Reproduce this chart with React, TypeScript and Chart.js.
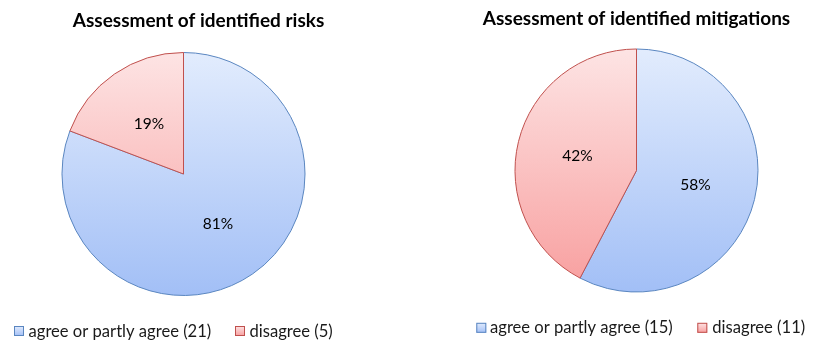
import React, { useEffect, useRef } from 'react';
import { Chart, registerables } from 'chart.js';

Chart.register(...registerables);

// ---- data ----
const categories = ['agree or partly agree', 'disagree'];
const risksCounts = [21, 5];
const mitigationsCounts = [15, 11];
const chartTitles = ['Assessment of identified risks', 'Assessment of identified mitigations'];

// ---- styles ----
const FONT = 'Lato, "Open Sans", sans-serif';
const FILLS = [
  { top: '#e2ecfd', bottom: '#a2bff6', border: '#5a86c0' },
  { top: '#fde4e4', bottom: '#f89e9e', border: '#c0504d' },
];
const W = 413;
const H = 354;

type PanelLayout = {
  cx: number; cy: number; r: number;
  titleX: number; titleY: number;
  legendY: number; boxX: number[]; textX: number[];
};

const leftLayout: PanelLayout = {
  cx: 183.5, cy: 174, r: 121.5,
  titleX: 198.5, titleY: 27,
  legendY: 336.5, boxX: [14, 235], textX: [28.5, 249.5],
};
const rightLayout: PanelLayout = {
  cx: 223.5, cy: 170.5, r: 121.5,
  titleX: 223.5, titleY: 24.5,
  legendY: 333.3, boxX: [63.3, 284.3], textX: [77, 299.3],
};

function Panel({ title, counts, layout, left }: { title: string; counts: number[]; layout: PanelLayout; left: number }) {
  const ref = useRef<HTMLCanvasElement | null>(null);
  useEffect(() => {
    if (!ref.current) return;
    const L = layout;
    const total = counts.reduce((a, b) => a + b, 0);
    const grad = (chart: Chart, i: number) => {
      const g = chart.ctx.createLinearGradient(0, L.cy - L.r, 0, L.cy + L.r);
      g.addColorStop(0, FILLS[i].top);
      g.addColorStop(1, FILLS[i].bottom);
      return g;
    };
    const overlay = {
      id: 'overlay',
      afterDraw(chart: Chart) {
        const ctx = chart.ctx;
        ctx.save();
        // title
        ctx.fillStyle = '#000';
        ctx.font = `bold 19px ${FONT}`;
        ctx.textAlign = 'center';
        ctx.textBaseline = 'alphabetic';
        ctx.fillText(title, L.titleX, L.titleY);
        // slice labels
        const meta = chart.getDatasetMeta(0);
        ctx.font = `15.5px ${FONT}`;
        ctx.textBaseline = 'middle';
        meta.data.forEach((el: any, i: number) => {
          const p = el.tooltipPosition(true);
          const pct = Math.round((counts[i] / total) * 100);
          ctx.fillText(`${pct}%`, p.x, p.y);
        });
        // legend
        ctx.textAlign = 'left';
        ctx.textBaseline = 'alphabetic';
        ctx.font = `16.6px ${FONT}`;
        categories.forEach((c, i) => {
          const bx = L.boxX[i];
          const by = L.legendY - 10.5;
          const g = ctx.createLinearGradient(0, by, 0, by + 10);
          g.addColorStop(0, FILLS[i].top);
          g.addColorStop(1, FILLS[i].bottom);
          ctx.fillStyle = g;
          ctx.fillRect(bx, by, 10, 10);
          ctx.strokeStyle = FILLS[i].border;
          ctx.lineWidth = 1;
          ctx.strokeRect(bx + 0.5, by + 0.5, 9, 9);
          ctx.fillStyle = '#1a1a1a';
          ctx.fillText(`${c} (${counts[i]})`, L.textX[i], L.legendY);
        });
        ctx.restore();
      },
    };
    const chart = new Chart(ref.current, {
      type: 'pie',
      data: {
        labels: categories,
        datasets: [{
          data: counts,
          backgroundColor: (c: any) => grad(c.chart, c.dataIndex),
          borderColor: FILLS.map((f) => f.border),
          borderWidth: 1,
        }],
      },
      options: {
        animation: false,
        responsive: true,
        maintainAspectRatio: false,
        radius: L.r,
        layout: {
          padding: {
            left: L.cx - L.r,
            right: W - (L.cx + L.r),
            top: L.cy - L.r,
            bottom: H - (L.cy + L.r),
          },
        },
        plugins: {
          legend: { display: false },
          title: { display: false },
          tooltip: { enabled: false },
        },
      } as any,
      plugins: [overlay],
    });
    return () => chart.destroy();
  }, [title, counts, layout]);
  return (
    <div style={{ position: 'absolute', left, top: 0, width: W, height: H }}>
      <canvas ref={ref} />
    </div>
  );
}

export default function App() {
  return (
    <div style={{ position: 'fixed', left: 0, top: 0, width: 826, height: 354, background: '#fff', overflow: 'hidden' }}>
      <Panel title={chartTitles[0]} counts={risksCounts} layout={leftLayout} left={0} />
      <Panel title={chartTitles[1]} counts={mitigationsCounts} layout={rightLayout} left={413} />
    </div>
  );
}
